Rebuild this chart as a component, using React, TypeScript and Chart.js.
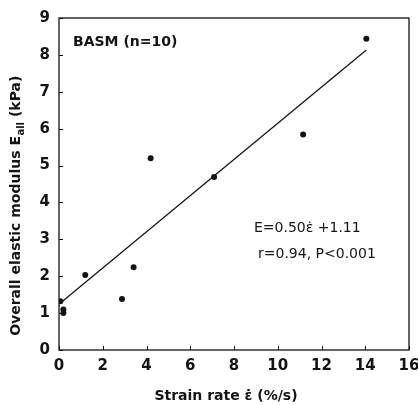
import React, { useEffect, useRef } from "react";
import { Chart, registerables } from "chart.js";

Chart.register(...registerables);

// ---- data ----
const strainRate = [0.06, 0.2, 0.2, 1.2, 2.88, 3.41, 4.19, 7.09, 11.16, 14.05];
const modulus = [1.32, 1.1, 1.0, 2.03, 1.38, 2.24, 5.2, 4.69, 5.84, 8.44];
const fitX = [0.05, 14.05];
const fitY = [1.27, 8.13];
const xTicks = [0, 2, 4, 6, 8, 10, 12, 14, 16];
const yTicks = [0, 1, 2, 3, 4, 5, 6, 7, 8, 9];
const panelLabel = "BASM (n=10)";
const equationLines = ["E=0.50\u03B5\u0307 +1.11", "r=0.94, P<0.001"];
const xTitle = "Strain rate \u03B5\u0307 (%/s)";
const yTitleParts = ["Overall elastic modulus E", "all", " (kPa)"];

const FONT = "'DejaVu Sans', 'Liberation Sans', Arial, sans-serif";
const INK = "#141414";

const decorPlugin = {
  id: "decor",
  afterDraw(chart: any) {
    const { ctx, chartArea } = chart;
    const { left, right, top, bottom } = chartArea;
    const xs = chart.scales.x;
    const ys = chart.scales.y;
    ctx.save();
    // frame
    ctx.strokeStyle = INK;
    ctx.lineWidth = 1.3;
    ctx.strokeRect(left, top, right - left, bottom - top);
    // inward ticks
    ctx.lineWidth = 1;
    ctx.beginPath();
    xTicks.forEach((v) => {
      const px = Math.round(xs.getPixelForValue(v)) + 0.5;
      ctx.moveTo(px, bottom);
      ctx.lineTo(px, bottom - 4);
    });
    yTicks.forEach((v) => {
      const py = Math.round(ys.getPixelForValue(v)) + 0.5;
      ctx.moveTo(left, py);
      ctx.lineTo(left + 4, py);
    });
    ctx.stroke();

    ctx.fillStyle = INK;
    // panel label
    ctx.font = `bold 14px ${FONT}`;
    ctx.textAlign = "left";
    ctx.textBaseline = "alphabetic";
    ctx.fillText(panelLabel, left + 14, top + 28);

    // equation
    ctx.font = `14px ${FONT}`;
    ctx.fillText(equationLines[0], left + 195, top + 214);
    ctx.fillText(equationLines[1], left + 199, top + 240);

    // x title
    ctx.font = `bold 14px ${FONT}`;
    ctx.textAlign = "center";
    ctx.fillText(xTitle, (left + right) / 2 - 8, 400);

    // y title with subscript
    ctx.translate(20, 206);
    ctx.rotate(-Math.PI / 2);
    const mainFont = `bold 14px ${FONT}`;
    const subFont = `bold 10px ${FONT}`;
    ctx.font = mainFont;
    const w0 = ctx.measureText(yTitleParts[0]).width;
    const w2 = ctx.measureText(yTitleParts[2]).width;
    ctx.font = subFont;
    const w1 = ctx.measureText(yTitleParts[1]).width;
    const total = w0 + w1 + w2;
    let x = -total / 2;
    ctx.textAlign = "left";
    ctx.font = mainFont;
    ctx.fillText(yTitleParts[0], x, 0);
    x += w0;
    ctx.font = subFont;
    ctx.fillText(yTitleParts[1], x + 0.5, 4);
    x += w1 + 0.5;
    ctx.font = mainFont;
    ctx.fillText(yTitleParts[2], x, 0);
    ctx.restore();
  },
};

export default function App() {
  const ref = useRef<HTMLCanvasElement | null>(null);
  useEffect(() => {
    document.body.style.margin = "0";
    if (!ref.current) return;
    const chart = new Chart(ref.current, {
      type: "scatter",
      data: {
        datasets: [
          {
            label: "data",
            data: strainRate.map((v, i) => ({ x: v, y: modulus[i] })),
            pointRadius: 3,
            pointBackgroundColor: INK,
            pointBorderWidth: 0,
            showLine: false,
          },
          {
            label: "fit",
            data: fitX.map((v, i) => ({ x: v, y: fitY[i] })),
            showLine: true,
            pointRadius: 0,
            borderColor: INK,
            borderWidth: 1.3,
          },
        ],
      },
      options: {
        animation: false,
        responsive: true,
        maintainAspectRatio: false,
        layout: { padding: { left: 0, top: 10, right: 21, bottom: 0 } },
        plugins: { legend: { display: false }, tooltip: { enabled: false } },
        scales: {
          x: {
            type: "linear",
            min: 0,
            max: 16,
            afterBuildTicks: (s: any) => {
              s.ticks = xTicks.map((v) => ({ value: v }));
            },
            afterFit: (s: any) => {
              s.height = 55;
            },
            ticks: {
              color: INK,
              font: { family: FONT, size: 15, weight: "bold" },
              padding: 7,
              maxRotation: 0,
              autoSkip: false,
            },
            grid: { display: false, drawTicks: false },
            border: { display: false },
          },
          y: {
            type: "linear",
            min: 0,
            max: 9,
            afterBuildTicks: (s: any) => {
              s.ticks = yTicks.map((v) => ({ value: v }));
            },
            afterFit: (s: any) => {
              s.width = 59;
            },
            ticks: {
              color: INK,
              font: { family: FONT, size: 15, weight: "bold" },
              padding: 9,
              autoSkip: false,
            },
            grid: { display: false, drawTicks: false },
            border: { display: false },
          },
        },
      },
      plugins: [decorPlugin],
    } as any);
    return () => chart.destroy();
  }, []);
  return (
    <div style={{ width: 418, height: 405, overflow: "hidden", background: "#fff" }}>
      <div style={{ width: 430, height: 405, position: "relative" }}>
        <canvas ref={ref} />
      </div>
    </div>
  );
}
